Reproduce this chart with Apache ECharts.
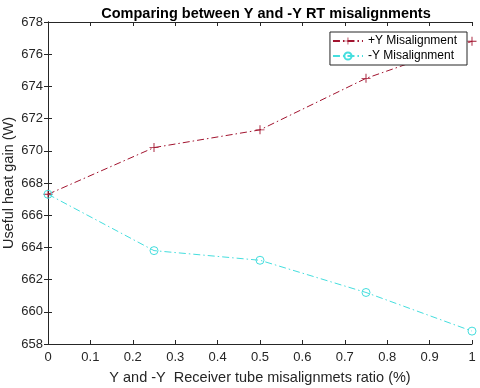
<!DOCTYPE html>
<html>
<head>
<meta charset="utf-8">
<script src="https://cdn.jsdelivr.net/npm/echarts@6/dist/echarts.min.js"></script>
<style>
html,body{margin:0;padding:0;background:#fff;}
#container{width:480px;height:388px;}
</style>
</head>
<body>
<div id="container"></div>
<script>
// misalignment ratio and heat gain values
var ratios = [0, 0.25, 0.5, 0.75, 1];
var plusY = [667.3, 670.2, 671.3, 674.5, 676.8];
var minusY = [667.3, 663.8, 663.2, 661.2, 658.8];
var seriesNames = ['+Y Misalignment', '-Y Misalignment'];

var dom = document.getElementById('container');
var myChart = echarts.init(dom, null, {renderer: 'canvas'});

var axisCol = '#262626';
var plusPath = 'path://M-0.1,-1h0.2v0.9h0.9v0.2h-0.9v0.9h-0.2v-0.9h-0.9v-0.2h0.9z';
var dashDot = [7, 3, 1.5, 3];

function pairs(ys){
    return ratios.map(function (x, i) { return [x, ys[i]]; });
}

var option = {
    animation: false,
    backgroundColor: '#fff',
    title: {
        text: 'Comparing between Y and -Y RT misalignments',
        left: 261,
        textAlign: 'center',
        top: 1,
        textStyle: {fontFamily: 'Liberation Sans', fontSize: 14.5, fontWeight: 'bold', color: '#000'}
    },
    legend: {
        orient: 'vertical',
        right: 13,
        top: 32,
        padding: [3, 10, 3, 2],
        itemGap: 3,
        itemWidth: 30,
        itemHeight: 9,
        borderColor: '#262626',
        borderWidth: 1,
        backgroundColor: '#fff',
        textStyle: {fontFamily: 'Liberation Sans', fontSize: 12, color: '#000'},
        data: seriesNames
    },
    grid: {left: 48, right: 8, top: 22, bottom: 44, outerBoundsMode: 'none'},
    xAxis: [{
        type: 'value',
        min: 0, max: 1, interval: 0.1,
        name: 'Y and -Y  Receiver tube misalignmets ratio (%)',
        nameLocation: 'middle',
        nameGap: 26,
        nameMoveOverlap: false,
        nameTextStyle: {fontFamily: 'Liberation Sans', fontSize: 14.5, color: axisCol},
        axisLine: {lineStyle: {color: axisCol}},
        axisTick: {inside: true, length: 4, lineStyle: {color: axisCol}},
        axisLabel: {fontFamily: 'Liberation Sans', fontSize: 13, color: axisCol, margin: 7,
            formatter: function (v) { return String(+v.toFixed(1)); }},
        splitLine: {show: false}
    }, {
        type: 'value',
        position: 'top',
        min: 0, max: 1, interval: 0.1,
        axisLine: {show: true, lineStyle: {color: axisCol}},
        axisTick: {inside: true, length: 4, lineStyle: {color: axisCol}},
        axisLabel: {show: false},
        splitLine: {show: false}
    }],
    yAxis: [{
        type: 'value',
        min: 658, max: 678, interval: 2,
        name: 'Useful heat gain (W)',
        nameLocation: 'middle',
        nameGap: 32,
        nameMoveOverlap: false,
        nameTextStyle: {fontFamily: 'Liberation Sans', fontSize: 14.5, color: axisCol},
        axisLine: {show: true, lineStyle: {color: axisCol}},
        axisTick: {show: true, inside: true, length: 4, lineStyle: {color: axisCol}},
        axisLabel: {fontFamily: 'Liberation Sans', fontSize: 13, color: axisCol, margin: 5},
        splitLine: {show: false}
    }, {
        type: 'value',
        position: 'right',
        min: 658, max: 678, interval: 2,
        axisLine: {show: true, lineStyle: {color: axisCol}},
        axisTick: {show: true, inside: true, length: 4, lineStyle: {color: axisCol}},
        axisLabel: {show: false},
        splitLine: {show: false}
    }],
    series: [{
        name: seriesNames[0],
        type: 'line',
        data: pairs(plusY),
        symbol: plusPath,
        symbolSize: 9,
        showAllSymbol: true,
        itemStyle: {color: '#a2142f'},
        lineStyle: {color: '#a2142f', width: 1, type: dashDot}
    }, {
        name: seriesNames[1],
        type: 'line',
        data: pairs(minusY),
        symbol: 'circle',
        symbolSize: 8,
        showAllSymbol: true,
        itemStyle: {color: 'rgba(255,255,255,0)', borderColor: '#45dede', borderWidth: 1},
        lineStyle: {color: '#45dede', width: 1, type: dashDot}
    }]
};

myChart.setOption(option);
window.addEventListener('resize', function () {
    myChart.resize();
});
</script>
</body>
</html>
